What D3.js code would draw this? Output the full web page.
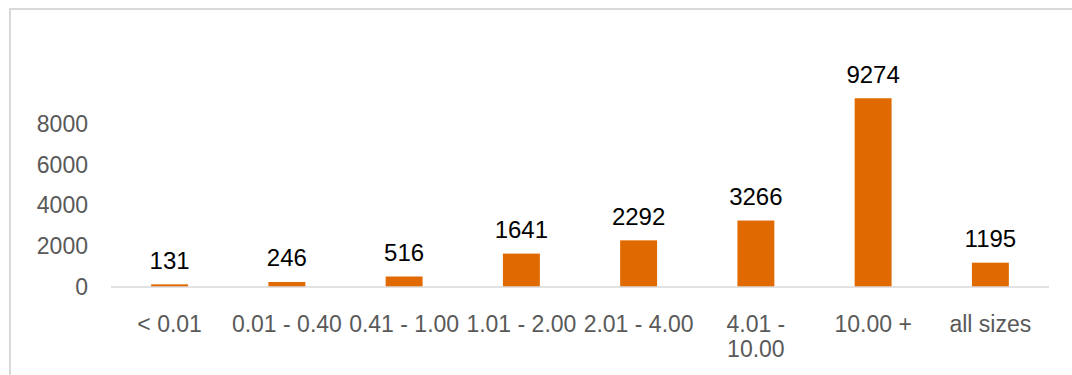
<!DOCTYPE html>
<html><head><meta charset="utf-8">
<script src="https://cdn.jsdelivr.net/npm/d3@7"></script>
<style>
html,body{margin:0;padding:0;background:#fff;}
svg{display:block;font-family:"Liberation Sans",Arial,sans-serif;}
</style></head>
<body>
<svg id="chart" width="1072" height="375"></svg>
<script>
const categories = ["< 0.01","0.01 - 0.40","0.41 - 1.00","1.01 - 2.00","2.01 - 4.00","4.01 - 10.00","10.00 +","all sizes"];
const values = [131,246,516,1641,2292,3266,9274,1195];
const yTicks = [0,2000,4000,6000,8000];
const yMax = 10000;

(function(){
const svg = d3.select("#chart");
// outer frame
svg.append("rect").attr("x",10).attr("y",9).attr("width",1080).attr("height",400)
  .attr("fill","none").attr("stroke","#d9d9d9").attr("stroke-width",2);

const pLeft = 111, pRight = 1049, pBase = 287, pTop = 83.5;
const x = d3.scaleBand().domain(categories).range([pLeft,pRight]).padding(0);
const y = d3.scaleLinear().domain([0,yMax]).range([pBase,pTop]);
const barW = x.bandwidth()*0.315;
const axisFont = 23, labelFont = 24;

// bars
svg.append("g").selectAll("rect").data(values).join("rect")
  .attr("x",(d,i)=>x(categories[i])+x.bandwidth()/2-barW/2)
  .attr("y",d=>y(d))
  .attr("width",barW)
  .attr("height",d=>y(0)-y(d))
  .attr("fill","#E06A00");

// baseline
svg.append("line").attr("x1",pLeft).attr("x2",pRight).attr("y1",pBase).attr("y2",pBase)
  .attr("stroke","#d9d9d9").attr("stroke-width",1.5);

// y axis
const yAxis = d3.axisLeft(y).tickValues(yTicks).tickSize(0).tickPadding(23).tickFormat(d3.format("d"));
const gy = svg.append("g").attr("transform",`translate(${pLeft},0)`).call(yAxis);
gy.select(".domain").remove();
gy.selectAll("text").attr("font-size",axisFont).attr("fill","#595959").attr("font-family","Liberation Sans, Arial, sans-serif");

// x axis
const x0 = 44.5, lineH = 25.5;
const xAxis = d3.axisBottom(x).tickSize(0).tickPadding(0);
const gx = svg.append("g").attr("transform",`translate(0,${pBase})`).call(xAxis);
gx.select(".domain").remove();
gx.selectAll("text").attr("font-size",axisFont).attr("fill","#595959")
  .attr("font-family","Liberation Sans, Arial, sans-serif").attr("dy",null).attr("y",x0)
  .each(function(d){
    const t = d3.select(this);
    const words = d.split(" ");
    t.text(null);
    let line = [], lineNo = 0;
    let ts = t.append("tspan").attr("x",0).attr("y",x0);
    for (const w of words){
      line.push(w);
      ts.text(line.join(" "));
      if (ts.node().getComputedTextLength() > x.bandwidth()-2 && line.length>1){
        line.pop(); ts.text(line.join(" "));
        line=[w]; lineNo++;
        ts = t.append("tspan").attr("x",0).attr("y",x0+lineNo*lineH).text(w);
      }
    }
  });

// data labels
svg.append("g").selectAll("text").data(values).join("text")
  .attr("x",(d,i)=>x(categories[i])+x.bandwidth()/2)
  .attr("y",d=>y(d)-15.5)
  .attr("text-anchor","middle")
  .attr("font-size",labelFont)
  .attr("font-family","Liberation Sans, Arial, sans-serif")
  .attr("fill","#000")
  .text(d=>d);
})();
</script>
</body></html>
